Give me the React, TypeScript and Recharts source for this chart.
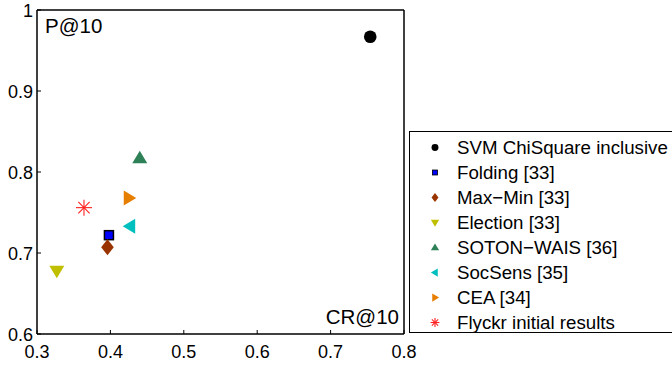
import { ScatterChart, Scatter, XAxis, YAxis } from 'recharts';

const methods = [
  'SVM ChiSquare inclusive',
  'Folding [33]',
  'Max\u2212Min [33]',
  'Election [33]',
  'SOTON\u2212WAIS [36]',
  'SocSens [35]',
  'CEA [34]',
  'Flyckr initial results',
];
const crAt10 = [0.754, 0.398, 0.396, 0.327, 0.44, 0.427, 0.425, 0.364];
const pAt10 = [0.967, 0.722, 0.707, 0.678, 0.817, 0.733, 0.768, 0.756];
const markers = ['circle', 'square', 'diamond', 'down', 'up', 'left', 'right', 'star'];
const colors = ['#000000', '#0000ff', '#993300', '#bfbf00', '#2e8057', '#00bfbf', '#e67e00', '#ff2020'];

const xTicks = [0.3, 0.4, 0.5, 0.6, 0.7, 0.8];
const yTicks = [0.6, 0.7, 0.8, 0.9, 1];

const FONT = '"Liberation Sans", Arial, Helvetica, sans-serif';

function fmt(v: number): string {
  return v === 1 ? '1' : String(v);
}

function Marker({ kind, color, cx, cy, s = 1 }: { kind: string; color: string; cx: number; cy: number; s?: number }) {
  switch (kind) {
    case 'circle':
      return <circle cx={cx} cy={cy} r={6.3 * s} fill={color} />;
    case 'square':
      return <rect x={cx - 4.5 * s} y={cy - 4.5 * s} width={9 * s} height={9 * s} fill={color} stroke="#000" strokeWidth={1.5 * s} />;
    case 'diamond':
      return <path d={`M${cx},${cy - 8 * s}L${cx + 6.3 * s},${cy}L${cx},${cy + 8 * s}L${cx - 6.3 * s},${cy}Z`} fill={color} />;
    case 'down':
      return <path d={`M${cx - 7.5 * s},${cy - 5 * s}L${cx + 7.5 * s},${cy - 5 * s}L${cx},${cy + 7.5 * s}Z`} fill={color} />;
    case 'up':
      return <path d={`M${cx - 7.5 * s},${cy + 5 * s}L${cx + 7.5 * s},${cy + 5 * s}L${cx},${cy - 7.5 * s}Z`} fill={color} />;
    case 'left':
      return <path d={`M${cx + 5 * s},${cy - 7.5 * s}L${cx + 5 * s},${cy + 7.5 * s}L${cx - 7.5 * s},${cy}Z`} fill={color} />;
    case 'right':
      return <path d={`M${cx - 5 * s},${cy - 7.5 * s}L${cx - 5 * s},${cy + 7.5 * s}L${cx + 7.5 * s},${cy}Z`} fill={color} />;
    default: {
      const r = 8 * s;
      const d = r * 0.707;
      return (
        <g stroke={color} strokeWidth={1.1}>
          <line x1={cx - r} y1={cy} x2={cx + r} y2={cy} />
          <line x1={cx} y1={cy - r} x2={cx} y2={cy + r} />
          <line x1={cx - d} y1={cy - d} x2={cx + d} y2={cy + d} />
          <line x1={cx - d} y1={cy + d} x2={cx + d} y2={cy - d} />
        </g>
      );
    }
  }
}

// MATLAB-style ticks: drawn inward, labels outside
const BottomTick = ({ x, y, payload }: any) => (
  <g>
    <line x1={x} y1={y} x2={x} y2={y - 4} stroke="#000" />
    <text x={x} y={y + 24} textAnchor="middle" fontSize={18} fontFamily={FONT} fill="#000">{fmt(payload.value)}</text>
  </g>
);
const TopTick = ({ x, y }: any) => <line x1={x} y1={y} x2={x} y2={y + 4} stroke="#000" />;
const LeftTick = ({ x, y, payload }: any) => (
  <g>
    <line x1={x} y1={y} x2={x + 4} y2={y} stroke="#000" />
    <text x={x - 4} y={y + 7} textAnchor="end" fontSize={18} fontFamily={FONT} fill="#000">{fmt(payload.value)}</text>
  </g>
);
const RightTick = ({ x, y }: any) => <line x1={x} y1={y} x2={x - 4} y2={y} stroke="#000" />;

export default function App() {
  const series = methods.map((name, i) => ({ name, data: [{ cr: crAt10[i], p: pAt10[i] }] }));
  return (
    <div style={{ position: 'absolute', left: 0, top: 0, width: 672, height: 367, background: '#fff', overflow: 'hidden', fontFamily: FONT }}>
      <ScatterChart width={672} height={367} margin={{ top: 0, right: 267, bottom: 0, left: 0 }}>
        <XAxis xAxisId="b" dataKey="cr" type="number" domain={[0.3, 0.8]} ticks={xTicks} orientation="bottom"
          height={33} tickSize={0} tickMargin={0} tickLine={false} tick={<BottomTick />} axisLine={{ stroke: '#000', strokeWidth: 1.5 }} />
        <XAxis xAxisId="t" dataKey="cr" type="number" domain={[0.3, 0.8]} ticks={xTicks} orientation="top"
          height={10} tickSize={0} tickMargin={0} tickLine={false} tick={<TopTick />} axisLine={{ stroke: '#000', strokeWidth: 1.5 }} />
        <YAxis yAxisId="l" dataKey="p" type="number" domain={[0.6, 1]} ticks={yTicks} orientation="left"
          width={37} tickSize={0} tickMargin={0} tickLine={false} tick={<LeftTick />} axisLine={{ stroke: '#000', strokeWidth: 1.5 }} />
        <YAxis yAxisId="r" dataKey="p" type="number" domain={[0.6, 1]} ticks={yTicks} orientation="right"
          width={1} tickSize={0} tickMargin={0} tickLine={false} tick={<RightTick />} axisLine={{ stroke: '#000', strokeWidth: 1.5 }} />
        {series.map((s, i) => (
          <Scatter key={s.name} name={s.name} data={s.data} xAxisId="b" yAxisId="l" isAnimationActive={false}
            shape={(props: any) => <Marker kind={markers[i]} color={colors[i]} cx={props.cx} cy={props.cy} />} />
        ))}
      </ScatterChart>
      <div style={{ position: 'absolute', left: 45, top: 15, fontSize: 20.5, lineHeight: '22px' }}>P@10</div>
      <div style={{ position: 'absolute', right: 672 - 399, top: 306, fontSize: 20.5, lineHeight: '22px' }}>CR@10</div>
      <div style={{ position: 'absolute', left: 409, top: 131, width: 290, height: 200, border: '1.5px solid #000', background: '#fff' }}>
        {methods.map((name, i) => (
          <div key={name} style={{ position: 'absolute', left: 0, top: 3 + i * 25.05, height: 25, display: 'flex', alignItems: 'center' }}>
            <svg width={47} height={25} style={{ display: 'block' }}>
              <Marker kind={markers[i]} color={colors[i]} cx={25} cy={12.5} s={0.55} />
            </svg>
            <span style={{ fontSize: 18.7, whiteSpace: 'nowrap', color: '#000' }}>{name}</span>
          </div>
        ))}
      </div>
    </div>
  );
}
